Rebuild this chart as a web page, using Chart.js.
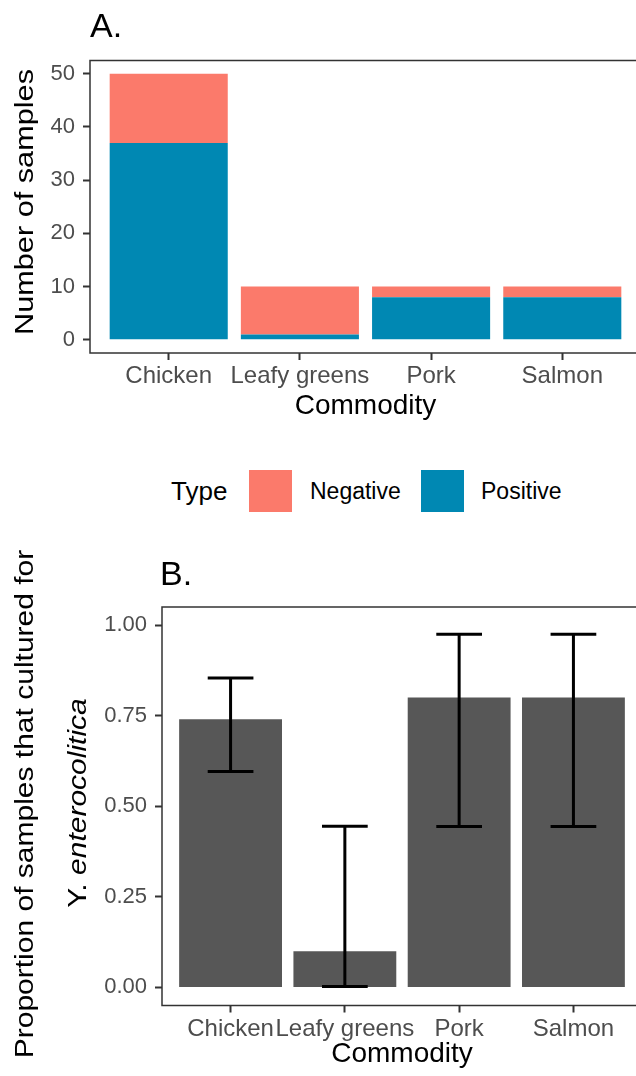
<!DOCTYPE html>
<html>
<head>
<meta charset="utf-8">
<script src="https://cdn.jsdelivr.net/npm/chart.js@4/dist/chart.umd.min.js"></script>
<style>
  html, body { margin: 0; padding: 0; background: #fff; }
  body { width: 636px; height: 1076px; overflow: hidden; position: relative; font-family: "Liberation Sans", Arial, sans-serif; }
  canvas { position: absolute; left: 0; }
  #chartA { top: 0; }
  #chartB { top: 520px; }
  .leg { position: absolute; top: 470px; height: 42px; line-height: 42px; color: #000; white-space: nowrap; }
  .sw { position: absolute; top: 470px; width: 43px; height: 42px; }
</style>
</head>
<body>
<canvas id="chartA" width="700" height="430"></canvas>
<div class="leg" style="left:171px; font-size:26px;">Type</div>
<div class="sw" style="left:249px; background:#fb7a6b;"></div>
<div class="leg" style="left:310px; font-size:23px;">Negative</div>
<div class="sw" style="left:421px; background:#0088b3;"></div>
<div class="leg" style="left:481px; font-size:23px;">Positive</div>
<canvas id="chartB" width="700" height="556"></canvas>
<script>
// data
const categories = ['Chicken', 'Leafy greens', 'Pork', 'Salmon'];
const positiveCounts = [37, 1, 8, 8];
const negativeCounts = [13, 9, 2, 2];
const countTicks = [0, 10, 20, 30, 40, 50];

const proportion = [0.74, 0.10, 0.80, 0.80];
const ciLow = [0.596, 0.0025, 0.444, 0.444];
const ciHigh = [0.854, 0.445, 0.975, 0.975];
const proportionTicks = [0, 0.25, 0.5, 0.75, 1];

const FONT = '"Liberation Sans", Arial, sans-serif';
Chart.defaults.font.family = FONT;

// panel letter, rotated y title (slightly squeezed like the original) and frame
function panelPlugin(opts) {
    return {
        id: 'panel' + opts.letter,
        afterDraw(chart) {
            const ctx = chart.ctx;
            const a = chart.chartArea;
            ctx.save();
            ctx.strokeStyle = '#333333';
            ctx.lineWidth = 1.5;
            ctx.strokeRect(a.left, a.top, a.right - a.left, a.bottom - a.top);

            ctx.fillStyle = '#000';
            ctx.font = '34px ' + FONT;
            ctx.textBaseline = 'alphabetic';
            ctx.textAlign = 'left';
            ctx.fillText(opts.letter, opts.letterX, opts.letterY);

            opts.yTitle.forEach(line => {
                ctx.save();
                ctx.translate(line.x, line.y);
                ctx.rotate(-Math.PI / 2);
                ctx.scale(1, 0.84);
                const size = line.size || 30;
                let total = 0;
                line.parts.forEach(p => {
                    ctx.font = (p.italic ? 'italic ' : '') + size + 'px ' + FONT;
                    total += ctx.measureText(p.text).width;
                });
                let x = -total / 2;
                line.parts.forEach(p => {
                    ctx.font = (p.italic ? 'italic ' : '') + size + 'px ' + FONT;
                    ctx.fillText(p.text, x, 0);
                    x += ctx.measureText(p.text).width;
                });
                ctx.restore();
            });
            ctx.restore();
        }
    };
}

const errorBarPlugin = {
    id: 'errorBars',
    afterDatasetsDraw(chart) {
        const ctx = chart.ctx;
        const xs = chart.scales.x, ys = chart.scales.y;
        ctx.save();
        ctx.strokeStyle = '#000';
        ctx.lineWidth = 3;
        categories.forEach((c, i) => {
            const x = xs.getPixelForValue(i + 1);
            const x0 = xs.getPixelForValue(i + 1 - 0.2);
            const x1 = xs.getPixelForValue(i + 1 + 0.2);
            const yl = ys.getPixelForValue(ciLow[i]);
            const yh = ys.getPixelForValue(ciHigh[i]);
            ctx.beginPath();
            ctx.moveTo(x, yl); ctx.lineTo(x, yh);
            ctx.moveTo(x0, yl); ctx.lineTo(x1, yl);
            ctx.moveTo(x0, yh); ctx.lineTo(x1, yh);
            ctx.stroke();
        });
        ctx.restore();
    }
};

function xScale(height) {
    return {
        type: 'linear',
        min: 0.4,
        max: 4.6,
        stacked: true,
        offset: false,
        afterBuildTicks: s => { s.ticks = categories.map((c, i) => ({ value: i + 1 })); },
        afterFit: s => { s.height = height; },
        ticks: {
            autoSkip: false, maxRotation: 0, minRotation: 0, padding: 2,
            color: '#4d4d4d', font: { size: 24 },
            callback: v => categories[v - 1]
        },
        grid: { display: true, offset: false, drawOnChartArea: false, drawTicks: true, tickLength: 7, tickWidth: 2, color: '#333333' },
        border: { display: false },
        title: { display: true, text: 'Commodity', color: '#000', font: { size: 28 }, padding: { top: 0, bottom: 0 } }
    };
}

function yScale(width, min, max, ticks, fmt) {
    return {
        min: min,
        max: max,
        stacked: true,
        afterBuildTicks: s => { s.ticks = ticks.map(v => ({ value: v })); },
        afterFit: s => { s.width = width; },
        ticks: { padding: 8, color: '#4d4d4d', font: { size: 22 }, callback: fmt },
        grid: { display: true, drawOnChartArea: false, drawTicks: true, tickLength: 7, tickWidth: 2, color: '#333333' },
        border: { display: false }
    };
}

new Chart(document.getElementById('chartA'), {
    type: 'bar',
    data: {
        datasets: [
            {
                label: 'Positive',
                data: positiveCounts.map((v, i) => ({ x: i + 1, y: v })),
                backgroundColor: '#0088b3',
                barPercentage: 0.9, categoryPercentage: 1.0
            },
            {
                label: 'Negative',
                data: negativeCounts.map((v, i) => ({ x: i + 1, y: v })),
                backgroundColor: '#fb7a6b',
                barPercentage: 0.9, categoryPercentage: 1.0
            }
        ]
    },
    options: {
        responsive: false,
        animation: false,
        layout: { padding: { top: 60.5, left: 0, right: 59, bottom: 7 } },
        plugins: { legend: { display: false }, tooltip: { enabled: false } },
        scales: {
            x: xScale(70),
            y: yScale(90, -2.5, 52.5, countTicks, v => String(v))
        }
    },
    plugins: [panelPlugin({
        letter: 'A.', letterX: 90, letterY: 37,
        yTitle: [{ x: 33, y: 202, size: 30.7, parts: [{ text: 'Number of samples' }] }]
    })]
});

new Chart(document.getElementById('chartB'), {
    type: 'bar',
    data: {
        datasets: [{
            label: 'Proportion',
            data: proportion.map((v, i) => ({ x: i + 1, y: v })),
            backgroundColor: '#575757',
            barPercentage: 0.9, categoryPercentage: 1.0
        }]
    },
    options: {
        responsive: false,
        animation: false,
        layout: { padding: { top: 87, left: 0, right: 58, bottom: 4.5 } },
        plugins: { legend: { display: false }, tooltip: { enabled: false } },
        scales: {
            x: xScale(66),
            y: yScale(162, -0.05, 1.05, proportionTicks, v => Number(v).toFixed(2))
        }
    },
    plugins: [errorBarPlugin, panelPlugin({
        letter: 'B.', letterX: 160, letterY: 65,
        yTitle: [
            { x: 33, y: 284, parts: [{ text: 'Proportion of samples that cultured for' }] },
            { x: 86, y: 283, parts: [{ text: 'Y. ' }, { text: 'enterocolitica', italic: true }] }
        ]
    })]
});
</script>
</body>
</html>
